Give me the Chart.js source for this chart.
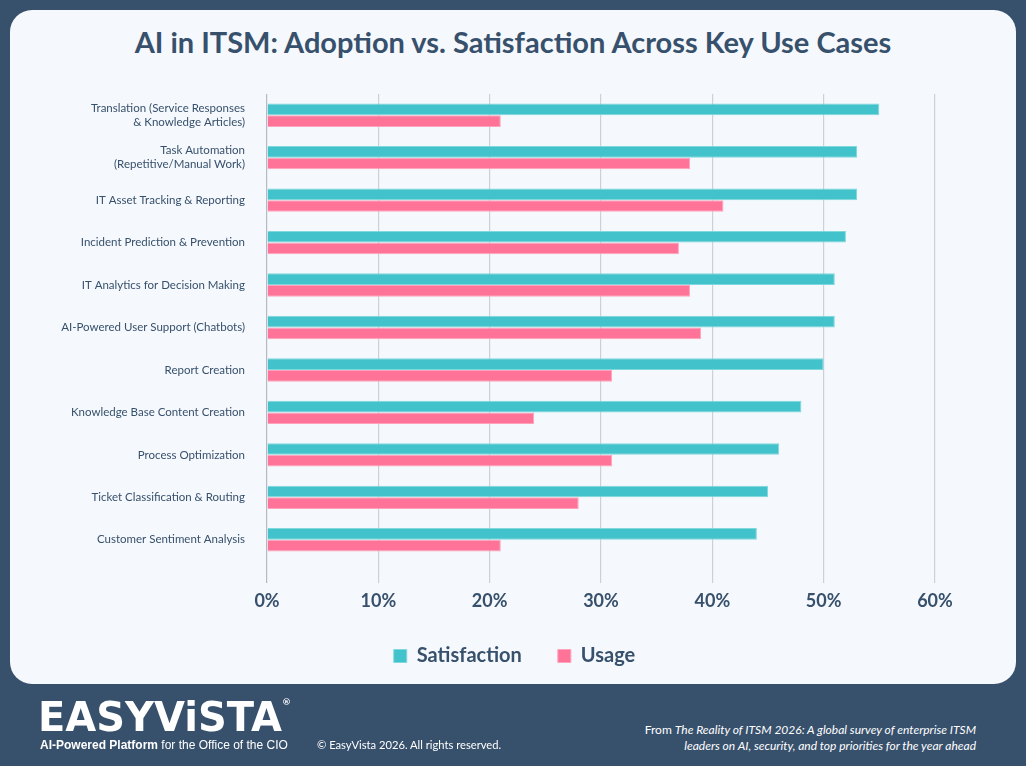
<!DOCTYPE html>
<html>
<head>
<meta charset="utf-8">
<script src="https://cdn.jsdelivr.net/npm/chart.js@4.4.1/dist/chart.umd.min.js"></script>
<style>
  html, body { margin: 0; padding: 0; }
  body { width: 1026px; height: 766px; background: #37506c; position: relative; overflow: hidden; font-family: Lato, "Open Sans", sans-serif; }
  #card { position: absolute; left: 10px; top: 10px; width: 1006px; height: 674px; background: #f5f8fc; border-radius: 22px; }
  #title { position: absolute; left: 0; top: 14px; width: 1006px; text-align: center; font-size: 29px; font-weight: 700; color: #37506c; }
  #wrap { position: absolute; left: 0; top: 60px; width: 1012px; height: 652px; }
  #logo { position: absolute; left: 38px; top: 694px; color: #fff; font-family: "DejaVu Sans", sans-serif; font-weight: 900; font-size: 40px; }
  #logo sup { font-size: 9px; vertical-align: 26px; }
  #tag { position: absolute; left: 40px; top: 738px; color: #fff; font-family: "Liberation Sans", sans-serif; font-size: 12px; }
  #copy { position: absolute; left: 317px; top: 738px; color: #fff; font-size: 11.2px; }
  #src { position: absolute; right: 50px; top: 722px; color: #fff; font-size: 12px; text-align: right; line-height: 16px; }
</style>
</head>
<body>
<div id="card">
  <div id="title">AI in ITSM: Adoption vs. Satisfaction Across Key Use Cases</div>
  <div id="wrap"><canvas id="chart"></canvas></div>
</div>
<div id="logo">EASYViSTA<sup>®</sup></div>
<div id="tag"><b>AI-Powered Platform</b> for the Office of the CIO</div>
<div id="copy">© EasyVista 2026. All rights reserved.</div>
<div id="src">From <i>The Reality of ITSM 2026: A global survey of enterprise ITSM</i><br><i>leaders on AI, security, and top priorities for the year ahead</i></div>
<script>
const useCases = [
  ['Translation (Service Responses', '& Knowledge Articles)'],
  ['Task Automation', '(Repetitive/Manual Work)'],
  'IT Asset Tracking & Reporting',
  'Incident Prediction & Prevention',
  'IT Analytics for Decision Making',
  'AI-Powered User Support (Chatbots)',
  'Report Creation',
  'Knowledge Base Content Creation',
  'Process Optimization',
  'Ticket Classification & Routing',
  'Customer Sentiment Analysis'
];
const satisfaction = [55, 53, 53, 52, 51, 51, 50, 48, 46, 45, 44];
const usage = [21, 38, 41, 37, 38, 39, 31, 24, 31, 28, 21];
const xTicks = [0, 10, 20, 30, 40, 50, 60];

const navy = '#37506c';

new Chart(document.getElementById('chart'), {
  type: 'bar',
  data: {
    labels: useCases,
    datasets: [
      { label: 'Satisfaction', data: satisfaction, backgroundColor: '#42c2ca', borderColor: '#7fd8dc', borderWidth: 1,
        categoryPercentage: 0.55, barPercentage: 1.0 },
      { label: 'Usage', data: usage, backgroundColor: '#ff7399', borderColor: '#ffa3bc', borderWidth: 1,
        categoryPercentage: 0.55, barPercentage: 1.0 }
    ]
  },
  options: {
    indexAxis: 'y',
    responsive: true,
    maintainAspectRatio: false,
    animation: false,
    layout: { padding: { left: 0, right: 3, top: 24, bottom: 46 } },
    scales: {
      x: {
        min: 0, max: 60,
        afterBuildTicks: (scale) => { scale.ticks = xTicks.map(v => ({ value: v })); },
        afterFit: (scale) => { scale.height = 49; },
        grid: { color: (ctx) => ctx.tick && ctx.tick.value === 0 ? '#b5bac2' : '#cdd1d6', lineWidth: 1.2, tickLength: 22 },
        border: { display: false },
        ticks: { color: navy, padding: 7, font: { family: 'Lato', size: 18, weight: 'bold' }, callback: (v) => v + '%' }
      },
      y: {
        afterFit: (scale) => {
          scale.width = 257;
          // two-line first label should not push the plot down
          scale.paddingTop = 0;
          scale.paddingBottom = 0;
        },
        grid: { display: false, drawTicks: false },
        border: { display: false },
        ticks: { color: navy, padding: 22, font: { family: 'Lato', size: 11.5 } }
      },
      // empty right-hand spacer so the legend centres under the whole card
      yRight: {
        axis: 'y', type: 'category', position: 'right',
        afterFit: (scale) => { scale.width = 84; },
        grid: { display: false, drawTicks: false },
        border: { display: false },
        ticks: { display: false }
      }
    },
    plugins: {
      legend: {
        position: 'bottom',
        labels: { color: navy, boxWidth: 13, boxHeight: 13, padding: 36, font: { family: 'Lato', size: 20, weight: 'bold' } }
      },
      tooltip: { enabled: false }
    }
  }
});
</script>
</body>
</html>
